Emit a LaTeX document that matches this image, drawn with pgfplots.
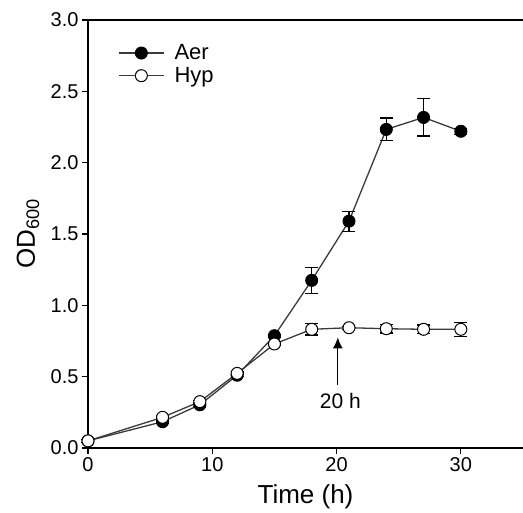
\documentclass[border=0pt]{standalone}
\usepackage{fontspec}
\setmainfont{Liberation Sans}
\usepackage{pgfplots}
\pgfplotsset{compat=1.18}
\usetikzlibrary{arrows.meta}

\definecolor{lncol}{HTML}{3A3A3A}

\begin{document}
\begin{tikzpicture}
\useasboundingbox (-88pt,-65pt) rectangle (435pt,448pt);
\begin{axis}[
  scale only axis,
  width=435pt, height=428pt,
  xmin=0, xmax=35, ymin=0, ymax=3,
  axis x line*=box, axis y line*=left,
  xtick={0,10,20,30}, ytick={0,0.5,...,3},
  xtick pos=bottom, ytick pos=left,
  tick align=outside, major tick length=6pt,
  axis line style={line width=1.3pt, black},
  every tick/.style={line width=1.2pt, black},
  /pgf/number format/assume math mode=true,
  yticklabel style={/pgf/number format/fixed, /pgf/number format/fixed zerofill, /pgf/number format/precision=1},
  tick label style={font=\fontsize{20}{23}\selectfont},
  xlabel={Time (h)}, ylabel={OD\textsubscript{600}},
  label style={font=\fontsize{26}{29}\selectfont},
  xlabel style={at={(axis description cs:0.5,-0.115)}, anchor=center},
  ylabel style={at={(axis description cs:-0.138,0.5)}, anchor=center},
  clip=false,
  legend style={draw=none, fill=none, at={(axis description cs:0.069,0.945)}, anchor=north west,
    font=\fontsize{22}{24}\selectfont, inner sep=0pt, row sep=4pt,
    nodes={inner ysep=1pt, inner xsep=4pt}},
  legend cell align=left,
  legend image code/.code={
    \draw[#1] (-4pt,0pt) -- (41pt,0pt);
    \draw[#1, only marks] plot coordinates {(18.5pt,0pt)};
    \path (47pt,0pt);
  },
]
\addplot[lncol, line width=1.3pt, mark=*, mark size=6pt,
  mark options={fill=black, draw=black, line width=1pt},
  error bars/.cd, y dir=both, y explicit,
  error bar style={black, line width=1.2pt},
  error mark options={rotate=90, mark size=6.5pt, line width=1.2pt, black}]
coordinates {
  (0,0.05) +- (0,0.01)
  (6,0.184) +- (0,0.01)
  (9,0.303) +- (0,0.01)
  (12,0.51) +- (0,0.01)
  (15,0.787) +- (0,0.01)
  (18,1.175) +- (0,0.09)
  (21,1.59) +- (0,0.07)
  (24,2.233) +- (0,0.08)
  (27,2.317) +- (0,0.13)
  (30,2.22) +- (0,0.02)
};
\addlegendentry{Aer}
\addplot[lncol, line width=1.3pt, mark=*, mark size=6pt,
  mark options={fill=white, draw=black, line width=1pt},
  error bars/.cd, y dir=both, y explicit,
  error bar style={black, line width=1.2pt},
  error mark options={rotate=90, mark size=6.5pt, line width=1.2pt, black}]
coordinates {
  (0,0.05) +- (0,0.01)
  (6,0.215) +- (0,0.01)
  (9,0.325) +- (0,0.01)
  (12,0.523) +- (0,0.01)
  (15,0.729) +- (0,0.01)
  (18,0.832) +- (0,0.04)
  (21,0.843) +- (0,0.01)
  (24,0.836) +- (0,0.03)
  (27,0.832) +- (0,0.03)
  (30,0.832) +- (0,0.05)
};
\addlegendentry{Hyp}
\draw[line width=1.3pt, -{Latex[length=11pt, width=10pt]}] (axis cs:20.1,0.44) -- (axis cs:20.1,0.775);
\node[font=\fontsize{21}{23}\selectfont] at (axis cs:20.3,0.33) {20 h};
\end{axis}
\end{tikzpicture}
\end{document}
